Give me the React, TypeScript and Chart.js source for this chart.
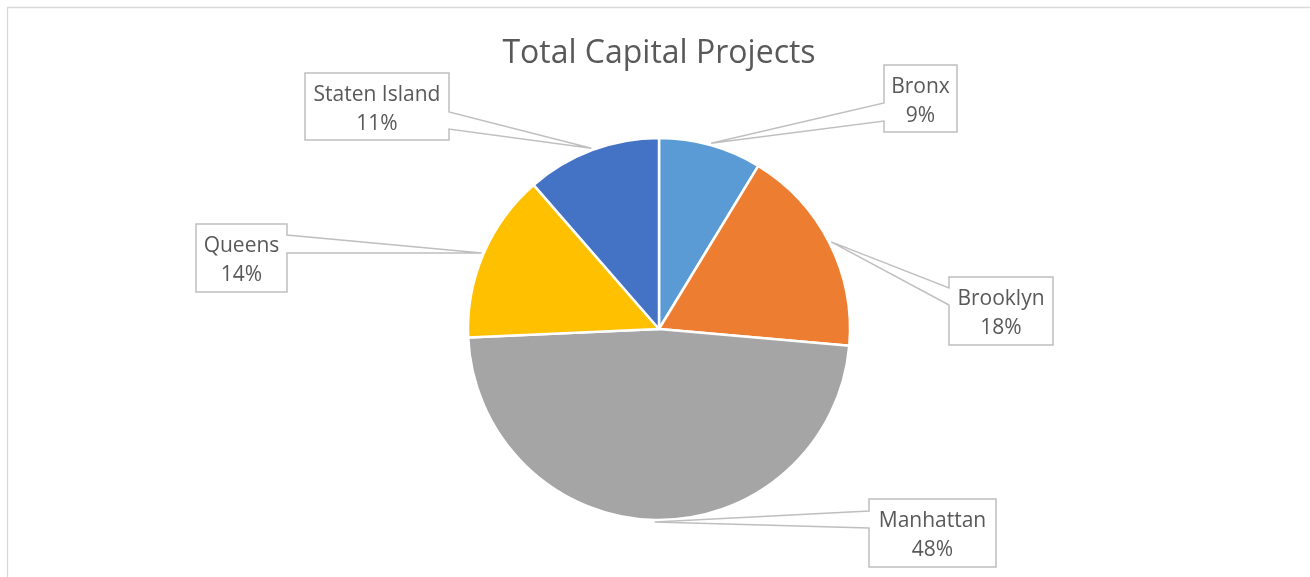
import React, { useEffect, useRef } from "react";
import { Chart, registerables } from "chart.js";

Chart.register(...registerables);

const categories = ["Bronx", "Brooklyn", "Manhattan", "Queens", "Staten Island"];
const values = [8.7, 17.7, 47.9, 14.3, 11.4];
const colors = ["#5B9BD5", "#ED7D31", "#A5A5A5", "#FFC000", "#4472C4"];
const chartTitle = "Total Capital Projects";

// callout box layout (centre, size, side of the pointer, pointer attach offsets)
const calloutLayout = [
  { cx: 920.5, cy: 98.5, w: 73, h: 67, side: "left", a1: 38, a2: 56 },
  { cx: 1001, cy: 311, w: 104, h: 68, side: "left", a1: 11, a2: 28 },
  { cx: 932.5, cy: 533, w: 127, h: 68, side: "left", a1: 12, a2: 29 },
  { cx: 241.5, cy: 258, w: 91, h: 68, side: "right", a1: 11, a2: 29 },
  { cx: 377, cy: 106.5, w: 144, h: 67, side: "right", a1: 39, a2: 56 },
];

const FONT = "'Open Sans', 'DejaVu Sans', sans-serif";
const TEXT_COLOR = "#595959";

const overlayPlugin = {
  id: "overlay",
  afterDraw(chart: any) {
    const ctx = chart.ctx as CanvasRenderingContext2D;
    ctx.save();
    // frame
    ctx.strokeStyle = "#D9D9D9";
    ctx.lineWidth = 1.3;
    ctx.beginPath();
    ctx.moveTo(7.5, chart.height + 2);
    ctx.lineTo(7.5, 7.5);
    ctx.lineTo(chart.width + 2, 7.5);
    ctx.stroke();

    // title
    ctx.fillStyle = TEXT_COLOR;
    ctx.font = `32px ${FONT}`;
    ctx.textAlign = "center";
    ctx.textBaseline = "alphabetic";
    ctx.fillText(chartTitle, 659, 63);

    const meta = chart.getDatasetMeta(0);
    const data = chart.data.datasets[0].data as number[];
    const total = data.reduce((a, b) => a + b, 0);
    meta.data.forEach((arc: any, i: number) => {
      const p = arc.getProps(["x", "y", "startAngle", "endAngle", "outerRadius"], true);
      const mid = (p.startAngle + p.endAngle) / 2;
      const tx = p.x + Math.cos(mid) * (p.outerRadius + 2);
      const ty = p.y + Math.sin(mid) * (p.outerRadius + 2);
      const L = calloutLayout[i];
      const left = L.cx - L.w / 2;
      const right = L.cx + L.w / 2;
      const top = L.cy - L.h / 2;
      const bottom = L.cy + L.h / 2;
      ctx.beginPath();
      if (L.side === "left") {
        ctx.moveTo(left, top);
        ctx.lineTo(right, top);
        ctx.lineTo(right, bottom);
        ctx.lineTo(left, bottom);
        ctx.lineTo(left, top + L.a2);
        ctx.lineTo(tx, ty);
        ctx.lineTo(left, top + L.a1);
      } else {
        ctx.moveTo(left, top);
        ctx.lineTo(right, top);
        ctx.lineTo(right, top + L.a1);
        ctx.lineTo(tx, ty);
        ctx.lineTo(right, top + L.a2);
        ctx.lineTo(right, bottom);
        ctx.lineTo(left, bottom);
      }
      ctx.closePath();
      ctx.fillStyle = "#FFFFFF";
      ctx.fill();
      ctx.strokeStyle = "#BFBFBF";
      ctx.lineWidth = 1.5;
      ctx.stroke();

      ctx.fillStyle = TEXT_COLOR;
      ctx.font = `21px ${FONT}`;
      ctx.textAlign = "center";
      ctx.fillText(String(chart.data.labels[i]), L.cx, top + 28);
      ctx.fillText(Math.round((data[i] / total) * 100) + "%", L.cx, top + 57);
    });
    ctx.restore();
  },
};

export default function App() {
  const ref = useRef<HTMLCanvasElement>(null);
  useEffect(() => {
    if (!ref.current) return;
    const chart = new Chart(ref.current, {
      type: "pie",
      data: {
        labels: categories,
        datasets: [
          {
            data: values,
            backgroundColor: colors,
            borderColor: "#FFFFFF",
            borderWidth: 2.5,
          },
        ],
      },
      options: {
        responsive: false,
        animation: false,
        radius: 191,
        layout: { padding: { left: 8, right: 0, top: 81, bottom: 0 } },
        plugins: {
          legend: { display: false },
          tooltip: { enabled: false },
          title: { display: false },
        },
      } as any,
      plugins: [overlayPlugin],
    });
    return () => chart.destroy();
  }, []);
  return (
    <div style={{ position: "fixed", left: 0, top: 0, width: 1310, height: 577, background: "#FFFFFF" }}>
      <canvas ref={ref} width={1310} height={577} />
    </div>
  );
}
